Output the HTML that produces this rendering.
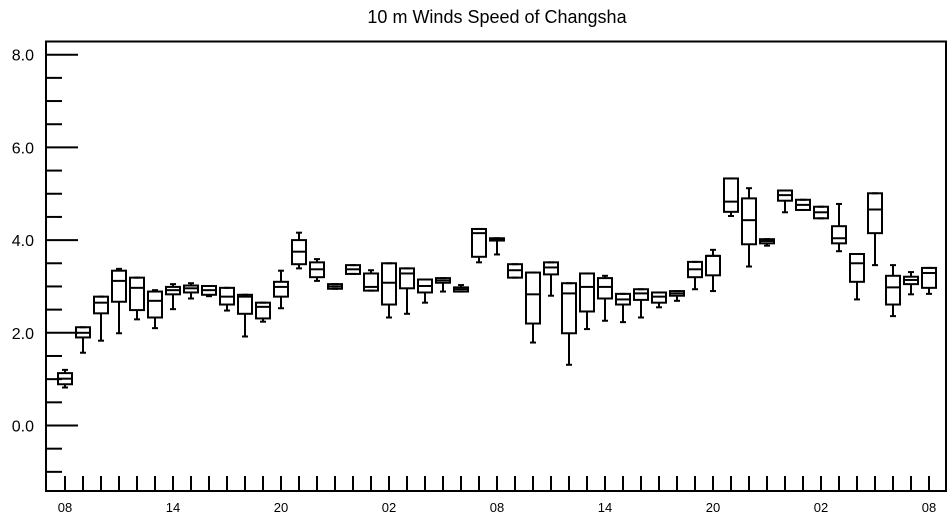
<!DOCTYPE html>
<html><head><meta charset="utf-8"><style>
body{margin:0;background:#fff}
svg{display:block;font-family:"Liberation Sans",sans-serif}
</style></head><body>
<svg id="chart" width="952" height="520">
<text x="497" y="23" text-anchor="middle" font-size="18">10 m Winds Speed of Changsha</text>
<g id="axes"></g><g id="boxes"></g>
</svg>
<script>
const hours=[];for(let i=0;i<49;i++)hours.push(i);
const xTickLabels=["08","14","20","02","08","14","20","02","08"];
const yTickLabels=["0.0","2.0","4.0","6.0","8.0"];
const maxV=[1.20,2.12,2.78,3.38,3.19,2.92,3.05,3.07,3.01,2.97,2.82,2.65,3.34,4.16,3.59,3.05,3.46,3.35,3.50,3.39,3.15,3.18,3.03,4.24,4.04,3.48,3.30,3.52,3.07,3.28,3.23,2.84,2.94,2.87,2.90,3.53,3.79,5.33,5.12,4.02,5.07,4.87,4.72,4.78,3.70,5.01,3.46,3.31,3.40];
const q3V=[1.13,2.12,2.78,3.34,3.19,2.89,2.99,3.02,3.01,2.97,2.82,2.65,3.10,4.00,3.52,3.05,3.46,3.28,3.50,3.39,3.15,3.18,2.98,4.24,4.04,3.48,3.30,3.52,3.07,3.28,3.18,2.84,2.94,2.87,2.90,3.53,3.66,5.33,4.90,4.02,5.07,4.87,4.72,4.30,3.70,5.01,3.23,3.21,3.40];
const medV=[1.01,2.00,2.65,3.12,2.97,2.69,2.92,2.96,2.92,2.78,2.78,2.56,2.99,3.75,3.37,3.00,3.37,2.99,3.08,3.28,3.01,3.13,2.94,4.15,4.02,3.35,2.83,3.41,2.85,2.99,2.99,2.72,2.85,2.78,2.85,3.37,3.66,4.83,4.43,3.98,4.97,4.76,4.60,4.04,3.50,4.66,2.98,3.14,3.29];
const q1V=[0.89,1.90,2.42,2.67,2.49,2.33,2.83,2.87,2.82,2.61,2.41,2.31,2.78,3.48,3.20,2.95,3.27,2.91,2.61,2.96,2.87,3.08,2.89,3.64,3.99,3.19,2.20,3.26,1.99,2.46,2.74,2.61,2.71,2.65,2.80,3.20,3.24,4.61,3.91,3.93,4.85,4.65,4.47,3.93,3.10,4.15,2.61,3.05,2.97];
const minV=[0.82,1.57,1.83,1.99,2.29,2.10,2.51,2.74,2.79,2.48,1.92,2.24,2.53,3.39,3.12,2.95,3.27,2.91,2.33,2.41,2.65,2.89,2.89,3.52,3.69,3.19,1.79,2.80,1.31,2.08,2.26,2.23,2.33,2.55,2.69,2.94,2.90,4.52,3.43,3.88,4.60,4.65,4.47,3.76,2.72,3.46,2.36,2.83,2.84];
const X0=46,X1=946,Y0=41.5,Y1=491;
const xs=h=>65+h*18;
const ys=v=>425.5-v*46.35;
const NS="http://www.w3.org/2000/svg";
function mk(tag,attrs,parent){const e=document.createElementNS(NS,tag);for(const k in attrs)e.setAttribute(k,attrs[k]);parent.appendChild(e);return e;}
const axes=document.getElementById('axes'),boxes=document.getElementById('boxes');
const frame=mk('rect',{x:X0,y:Y0,width:X1-X0,height:Y1-Y0,fill:'none',stroke:'#000','stroke-width':2},axes);


for(let v=-1;v<=8.01;v+=0.5){
  const major=Math.abs(v/2-Math.round(v/2))<1e-6;
  const t=mk('line',{x1:X0,x2:X0+(major?32:16),y1:ys(v),y2:ys(v),stroke:'#000','stroke-width':2},axes);
  
  
}
yTickLabels.forEach((l,i)=>{
  const t=mk('text',{x:34,y:ys(i*2)+6,'text-anchor':'end','font-size':16},axes);t.textContent=l;
  
  
});
hours.forEach(h=>{
  const t=mk('line',{x1:xs(h),x2:xs(h),y1:Y1,y2:Y1-15,stroke:'#000','stroke-width':2},axes);
  
  
});
xTickLabels.forEach((l,i)=>{
  const t=mk('text',{x:xs(i*6),y:512,'text-anchor':'middle','font-size':13},axes);t.textContent=l;
  
  
});
hours.forEach((h,i)=>{
  const g=mk('g',{stroke:'#000','stroke-width':2,fill:'none'},boxes);
  
  
  const x=xs(h),w=14;
  mk('line',{x1:x,x2:x,y1:ys(maxV[i]),y2:ys(q3V[i])},g);
  mk('line',{x1:x,x2:x,y1:ys(q1V[i]),y2:ys(minV[i])},g);
  mk('line',{x1:x-3,x2:x+3,y1:ys(maxV[i]),y2:ys(maxV[i])},g);
  mk('line',{x1:x-3,x2:x+3,y1:ys(minV[i]),y2:ys(minV[i])},g);
  mk('rect',{x:x-w/2,y:ys(q3V[i]),width:w,height:Math.max(1,ys(q1V[i])-ys(q3V[i]))},g);
  mk('line',{x1:x-w/2,x2:x+w/2,y1:ys(medV[i]),y2:ys(medV[i])},g);
});
</script>
</body></html>
